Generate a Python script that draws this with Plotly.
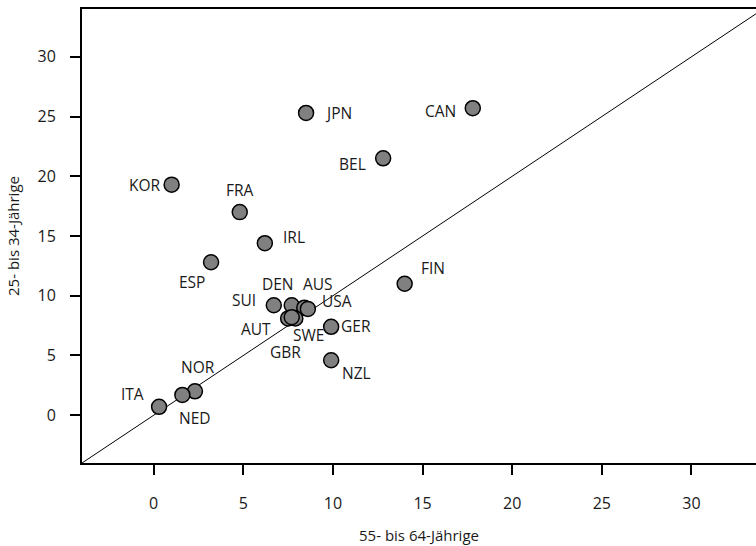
import plotly.graph_objects as go

# Country codes and values (percent) for the two age groups
countries = ["JPN", "CAN", "BEL", "KOR", "FRA", "IRL", "ESP", "FIN", "SUI", "DEN",
             "AUS", "USA", "AUT", "SWE", "GBR", "GER", "NZL", "NOR", "ITA", "NED"]
age_55_64 = [8.5, 17.8, 12.8, 1.0, 4.8, 6.2, 3.2, 14.0, 6.7, 7.7,
             8.4, 8.6, 7.5, 7.9, 7.7, 9.9, 9.9, 2.3, 0.3, 1.6]
age_25_34 = [25.3, 25.7, 21.5, 19.3, 17.0, 14.4, 12.8, 11.0, 9.2, 9.2,
             9.0, 8.9, 8.1, 8.1, 8.2, 7.4, 4.6, 2.0, 0.7, 1.7]

# Label offsets in pixels (dx, dy) relative to each marker
label_offsets = {
    "JPN": (32, 0), "CAN": (-32, -3), "BEL": (-31, -6), "KOR": (-27, 0),
    "FRA": (0, 22), "IRL": (29, 6), "ESP": (-19, -20), "FIN": (28, 16),
    "SUI": (-30, 5), "DEN": (-14, 21), "AUS": (14, 24), "USA": (29, 8),
    "AUT": (-32, -11), "SWE": (13, -17), "GBR": (-6, -35), "GER": (25, 1),
    "NZL": (25, -13), "NOR": (3, 24), "ITA": (-27, 13), "NED": (13, -23),
}

tick_vals = [0, 5, 10, 15, 20, 25, 30]
font_family = "Open Sans"
text_color = "#1a1a1a"

fig = go.Figure()

# Reference diagonal (equal values on both axes)
fig.add_trace(go.Scatter(
    x=[-4, 40], y=[-4, 40], mode="lines",
    line=dict(color="black", width=1), hoverinfo="skip", showlegend=False,
))

fig.add_trace(go.Scatter(
    x=age_55_64, y=age_25_34, mode="markers", text=countries,
    marker=dict(size=15, color="#808080", line=dict(color="black", width=1.5)),
    showlegend=False, cliponaxis=False,
))

for c, xv, yv in zip(countries, age_55_64, age_25_34):
    dx, dy = label_offsets[c]
    fig.add_annotation(
        x=xv, y=yv, text=c, showarrow=False,
        xshift=dx, yshift=dy,
        font=dict(family=font_family, size=15.5, color=text_color),
    )

fig.update_layout(
    width=756, height=546,
    margin=dict(l=82, r=0, t=9, b=83),
    paper_bgcolor="white", plot_bgcolor="white",
    font=dict(family=font_family, size=15, color=text_color),
)

fig.update_xaxes(
    range=[-4, 33.6], tickvals=tick_vals, showgrid=False, zeroline=False,
    showline=True, linecolor="black", linewidth=2, mirror=True,
    ticks="outside", ticklen=10, tickwidth=2, tickcolor="black",
    ticklabelstandoff=15,
    tickfont=dict(family=font_family, size=16, color=text_color),
    title=dict(text="55- bis 64-Jährige", standoff=17,
               font=dict(family=font_family, size=15, color=text_color)),
)
fig.update_yaxes(
    range=[-4, 34], tickvals=tick_vals, showgrid=False, zeroline=False,
    showline=True, linecolor="black", linewidth=2, mirror=False,
    ticks="outside", ticklen=10, tickwidth=2, tickcolor="black",
    ticklabelstandoff=11,
    tickfont=dict(family=font_family, size=16, color=text_color),
    title=dict(text="25- bis 34-Jährige", standoff=14,
               font=dict(family=font_family, size=15, color=text_color)),
)

fig.write_html("out.html")
